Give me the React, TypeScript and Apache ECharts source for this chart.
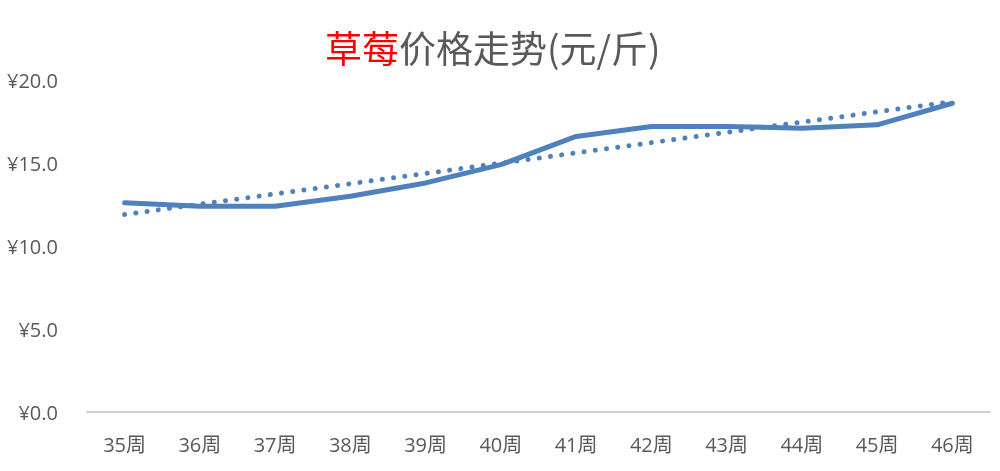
import React, { useEffect, useRef } from "react";
import * as echarts from "echarts";

const categories = ["35周", "36周", "37周", "38周", "39周", "40周", "41周", "42周", "43周", "44周", "45周", "46周"];
const prices = [12.6, 12.4, 12.4, 13.0, 13.8, 14.9, 16.6, 17.2, 17.2, 17.1, 17.3, 18.6];
const trend = [11.9, null, null, null, null, null, null, null, null, null, null, 18.7];
const yTicks = { min: 0, max: 20, interval: 5 };

export default function App() {
  const ref = useRef<HTMLDivElement>(null);
  useEffect(() => {
    if (!ref.current) return;
    const chart = echarts.init(ref.current, null, { renderer: "svg" });
    const cjk = "'Noto Sans CJK SC', 'Noto Sans', sans-serif";
    const font = "'Open Sans', 'Noto Sans CJK SC', sans-serif";
    chart.setOption({
      animation: false,
      title: {
        text: "{r|草莓}{g|价格走势(元/斤)}",
        left: 320,
        top: 23,
        textStyle: {
          rich: {
            r: { color: "#FF0000", fontSize: 37, fontWeight: "normal", fontFamily: cjk },
            g: { color: "#595959", fontSize: 37, fontWeight: "normal", fontFamily: cjk },
          },
        },
      },
      grid: { left: 87, right: 10, top: 80, bottom: 59 },
      xAxis: {
        type: "category",
        data: categories,
        boundaryGap: true,
        axisLine: { lineStyle: { color: "#BFBFBF", width: 1.5 } },
        axisTick: { show: false },
        axisLabel: { color: "#595959", fontSize: 20, fontFamily: font, margin: 22 },
      },
      yAxis: {
        type: "value",
        min: yTicks.min,
        max: yTicks.max,
        interval: yTicks.interval,
        axisLine: { show: false },
        axisTick: { show: false },
        splitLine: { show: false },
        axisLabel: {
          color: "#595959",
          fontSize: 20,
          fontFamily: font,
          margin: 29,
          formatter: (v: number) => "¥" + v.toFixed(1),
        },
      },
      series: [
        {
          type: "line",
          data: prices,
          symbol: "none",
          lineStyle: { color: "#4F81BD", width: 5, cap: "round", join: "round" },
        },
        {
          type: "line",
          data: trend,
          connectNulls: true,
          symbol: "none",
          lineStyle: { color: "#4F81BD", width: 5, type: [0.01, 11.3], cap: "round" },
        },
      ],
    });
    return () => chart.dispose();
  }, []);
  return <div ref={ref} style={{ position: "fixed", left: 0, top: 0, width: 1000, height: 471 }} />;
}
